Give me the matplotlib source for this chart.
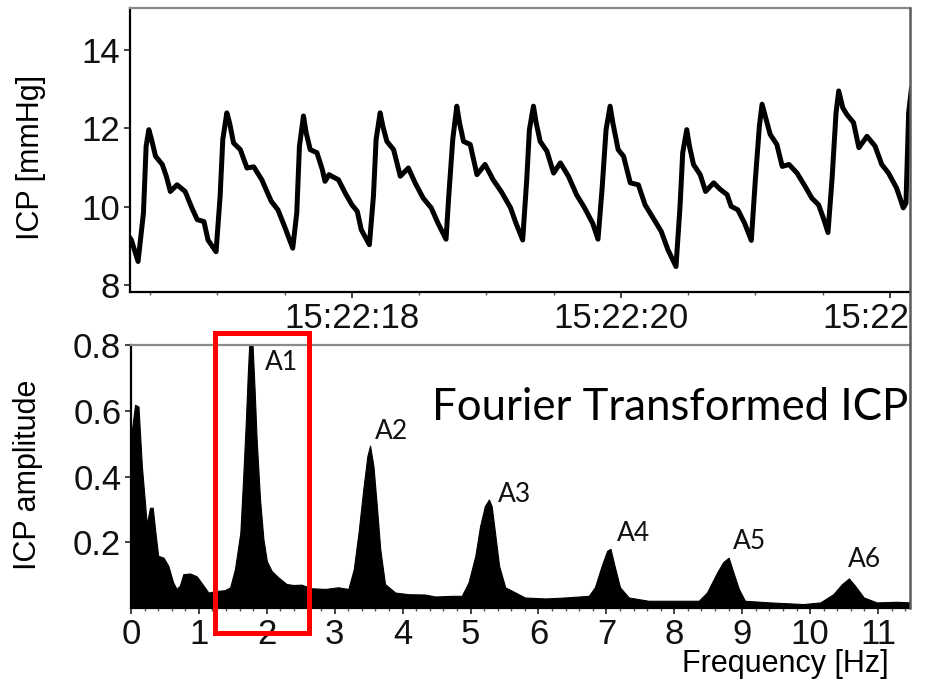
import matplotlib
matplotlib.use("Agg")
import matplotlib.pyplot as plt
from matplotlib.lines import Line2D
from matplotlib.patches import Rectangle
from matplotlib.ticker import FuncFormatter, MultipleLocator, FixedLocator
from matplotlib.transforms import Bbox, TransformedBbox

# ICP waveform: seconds after 15:22:00 and pressure in mmHg
icp_time = [16.35, 16.36, 16.41, 16.45, 16.47, 16.49, 16.51, 16.54, 16.59, 16.62,
            16.65, 16.70, 16.76, 16.81, 16.85, 16.90, 16.93, 16.99, 17.02, 17.04,
            17.07, 17.09, 17.12, 17.17, 17.22, 17.27, 17.33, 17.40, 17.45, 17.50,
            17.56, 17.59, 17.61, 17.64, 17.66, 17.69, 17.74, 17.78, 17.80, 17.83,
            17.85, 17.90, 17.95, 18.00, 18.04, 18.07, 18.13, 18.16, 18.18, 18.21,
            18.23, 18.26, 18.31, 18.36, 18.42, 18.47, 18.53, 18.59, 18.64, 18.70,
            18.72, 18.75, 18.78, 18.80, 18.83, 18.88, 18.93, 18.99, 19.05, 19.11,
            19.18, 19.22, 19.27, 19.30, 19.32, 19.35, 19.37, 19.40, 19.45, 19.50,
            19.55, 19.61, 19.67, 19.73, 19.79, 19.83, 19.86, 19.89, 19.92, 19.94,
            19.98, 20.02, 20.07, 20.13, 20.18, 20.24, 20.30, 20.35, 20.41, 20.44,
            20.46, 20.49, 20.51, 20.54, 20.59, 20.63, 20.69, 20.74, 20.79, 20.82,
            20.87, 20.92, 20.97, 21.00, 21.03, 21.05, 21.08, 21.11, 21.16, 21.20,
            21.25, 21.31, 21.37, 21.42, 21.47, 21.51, 21.54, 21.57, 21.60, 21.62,
            21.65, 21.68, 21.73, 21.77, 21.83, 21.89, 21.94, 21.99, 22.05, 22.10,
            22.12, 22.14, 22.16]
icp_mmhg = [9.20, 9.15, 8.60, 9.84, 11.55, 11.97, 11.72, 11.29, 11.08, 10.78,
            10.39, 10.56, 10.39, 9.97, 9.67, 9.62, 9.15, 8.85, 10.26, 11.72,
            12.40, 12.15, 11.63, 11.46, 10.99, 11.02, 10.69, 10.14, 9.92, 9.49,
            8.94, 9.84, 11.55, 12.32, 11.89, 11.46, 11.38, 10.95, 10.65, 10.82,
            10.78, 10.69, 10.35, 10.05, 9.88, 9.41, 9.03, 10.26, 11.72, 12.40,
            12.06, 11.67, 11.46, 10.78, 10.99, 10.61, 10.22, 9.97, 9.58, 9.17,
            10.26, 11.72, 12.57, 12.15, 11.67, 11.59, 10.82, 11.08, 10.69, 10.39,
            9.97, 9.58, 9.15, 10.69, 11.97, 12.57, 12.15, 11.67, 11.42, 10.86,
            11.12, 10.78, 10.31, 9.97, 9.58, 9.17, 10.44, 11.97, 12.57, 12.15,
            11.46, 11.29, 10.61, 10.56, 10.05, 9.71, 9.37, 8.90, 8.47, 10.01,
            11.38, 11.97, 11.55, 11.08, 10.82, 10.39, 10.61, 10.44, 10.31, 10.01,
            9.92, 9.58, 9.14, 10.69, 12.06, 12.62, 12.23, 11.85, 11.59, 11.03,
            11.08, 10.86, 10.52, 10.22, 10.05, 9.67, 9.34, 10.69, 12.40, 12.96,
            12.53, 12.36, 12.15, 11.51, 11.80, 11.55, 11.08, 10.86, 10.48, 9.97,
            10.09, 12.40, 13.00]

# Amplitude spectrum of the waveform
freq_hz = [0.0, 0.06, 0.11, 0.16, 0.21, 0.23, 0.28, 0.32, 0.36, 0.40,
           0.48, 0.55, 0.62, 0.67, 0.72, 0.77, 0.87, 0.97, 1.05, 1.14,
           1.26, 1.38, 1.46, 1.53, 1.61, 1.65, 1.69, 1.72, 1.74, 1.79,
           1.82, 1.85, 1.90, 1.95, 2.00, 2.07, 2.17, 2.29, 2.39, 2.51,
           2.66, 2.86, 3.05, 3.20, 3.28, 3.35, 3.42, 3.48, 3.52, 3.57,
           3.62, 3.67, 3.74, 3.89, 4.09, 4.33, 4.48, 4.72, 4.87, 4.97,
           5.07, 5.14, 5.21, 5.27, 5.31, 5.36, 5.42, 5.51, 5.66, 5.80,
           6.10, 6.39, 6.74, 6.83, 6.93, 7.01, 7.06, 7.12, 7.20, 7.33,
           7.62, 8.01, 8.36, 8.48, 8.63, 8.72, 8.80, 8.87, 8.95, 9.04,
           9.41, 9.90, 10.15, 10.34, 10.47, 10.57, 10.66, 10.79, 10.98, 11.28,
           11.47]
amplitude = [0.52, 0.618, 0.613, 0.431, 0.31, 0.255, 0.305, 0.305, 0.229, 0.159,
             0.153, 0.128, 0.078, 0.058, 0.068, 0.103, 0.105, 0.096, 0.073, 0.047,
             0.052, 0.054, 0.063, 0.118, 0.229, 0.391, 0.563, 0.714, 0.80, 0.80,
             0.664, 0.512, 0.330, 0.209, 0.143, 0.113, 0.093, 0.073, 0.070, 0.071,
             0.060, 0.058, 0.063, 0.058, 0.118, 0.229, 0.361, 0.462, 0.494, 0.431,
             0.31, 0.179, 0.073, 0.047, 0.042, 0.041, 0.035, 0.037, 0.037, 0.078,
             0.159, 0.249, 0.31, 0.330, 0.31, 0.229, 0.128, 0.063, 0.047, 0.032,
             0.029, 0.032, 0.037, 0.063, 0.128, 0.174, 0.180, 0.128, 0.063, 0.032,
             0.022, 0.022, 0.022, 0.047, 0.108, 0.140, 0.153, 0.108, 0.058, 0.022,
             0.017, 0.012, 0.017, 0.042, 0.073, 0.09, 0.068, 0.032, 0.017, 0.019,
             0.017]

harmonic_labels = ["A1", "A2", "A3", "A4", "A5", "A6"]
harmonic_label_xy = [(1.97, 0.724), (3.59, 0.515), (5.40, 0.321),
                     (7.16, 0.203), (8.87, 0.179), (10.56, 0.124)]

time_ticks = [18, 20, 22]
freq_ticks = list(range(12))
amp_ticks = [0.2, 0.4, 0.6, 0.8]
icp_ticks = [8, 10, 12, 14]

W, H = 930, 686
fig = plt.figure(figsize=(W / 100, H / 100), dpi=100)
plt.rcParams["font.family"] = ["Liberation Sans", "DejaVu Sans"]

def fbox(left, top, right, bottom):
    return [left / W, 1 - bottom / H, (right - left) / W, (bottom - top) / H]

ax1 = fig.add_axes(fbox(130, 8, 910, 292))
ax2 = fig.add_axes(fbox(131, 345, 910, 608))

tick_size = 25
label_size = 22

# --- top: time-domain ICP ---
ax1.plot(icp_time, icp_mmhg, color="black", lw=3.6, solid_joinstyle="round")
ax1.set_xlim(16.35, 22.15)
ax1.set_ylim(7.82, 15.08)
ax1.xaxis.set_major_locator(FixedLocator(time_ticks))
ax1.xaxis.set_minor_locator(MultipleLocator(0.5))
ax1.xaxis.set_major_formatter(FuncFormatter(lambda t, p: f"15:22:{t:02.0f}"))
ax1.yaxis.set_major_locator(FixedLocator(icp_ticks))
ax1.set_ylabel("ICP [mmHg]", fontsize=label_size)
ax1.yaxis.set_label_coords(-0.108, 0.474)

# --- bottom: spectrum ---
ax2.fill_between(freq_hz, 0, amplitude, color="black", lw=0.8, edgecolor="black")
ax2.set_xlim(0, 11.47)
ax2.set_ylim(0, 0.8)
ax2.xaxis.set_major_locator(FixedLocator(freq_ticks))
ax2.xaxis.set_minor_locator(MultipleLocator(0.2))
ax2.yaxis.set_major_locator(FixedLocator(amp_ticks))
ax2.yaxis.set_major_formatter(FuncFormatter(lambda v, p: f"{v:.1f}"))
ax2.set_ylabel("ICP amplitude", fontsize=label_size)
ax2.yaxis.set_label_coords(-0.113, 0.506)
ax2.set_xlabel("Frequency [Hz]", fontsize=label_size, ha="right")
ax2.xaxis.set_label_coords(0.972, -0.156)

for ax in (ax1, ax2):
    ax.tick_params(which="major", direction="out", length=4, width=1.2,
                   labelsize=tick_size, pad=3, colors="#222222", labelcolor="#111111")
    ax.tick_params(which="minor", direction="out", length=2.5, width=1.0, colors="#555555")
    ax.spines["right"].set_visible(False)
    ax.spines["top"].set_color("#8a8a8a")
    ax.spines["top"].set_linewidth(1.6)
    ax.spines["left"].set_linewidth(1.6)
    ax.spines["bottom"].set_linewidth(1.6)

for name, (x, y) in zip(harmonic_labels, harmonic_label_xy):
    ax2.text(x, y, name, fontsize=19, family="Lato", color="#111111",
             ha="left", va="baseline")

ax2.text(4.43, 0.573, "Fourier Transformed ICP", fontsize=31.5, family="Lato",
         color="black", ha="left", va="baseline")

# highlight box around the fundamental
ax2.add_patch(Rectangle((1.23, -0.077), 2.614 - 1.23, 0.838 + 0.077, fill=False,
                        ec="#ff0000", lw=3.6, clip_on=False, zorder=5))

# right border shared by both panels
fig.add_artist(Line2D([910 / W, 910 / W], [1 - 8 / H, 1 - 608 / H],
                      transform=fig.transFigure, color="#5a5a5a", lw=1.8))

# time labels stop at the right border
fig.canvas.draw()
clip = TransformedBbox(Bbox([[0, 0], [910 / W, 1]]), fig.transFigure)
for lbl in ax1.get_xticklabels():
    lbl.set_clip_box(clip)
    lbl.set_clip_on(True)

fig.savefig("out.png", dpi=100)
